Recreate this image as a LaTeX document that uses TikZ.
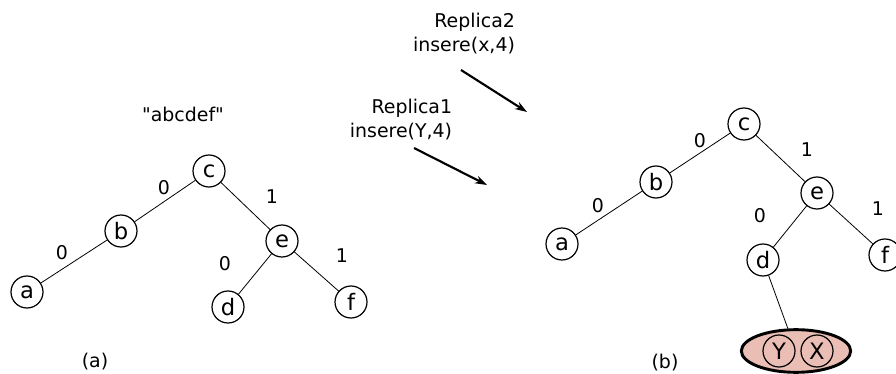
\documentclass[tikz,border=0pt]{standalone}
\usepackage{fontspec}
\setmainfont{DejaVu Sans}[Ligatures=TeXOff]
\usetikzlibrary{arrows.meta, positioning, shapes.geometric}
\definecolor{blocpink}{RGB}{234,190,180}
\tikzset{
  vertex/.style={circle, draw, line width=0.9pt, minimum size=24pt, inner sep=0pt, font=\fontsize{17}{18}\selectfont},
  lbl/.style={font=\fontsize{14.2}{15}\selectfont},
  edge/.style={line width=0.6pt},
  opline/.style={line width=1.6pt, -{Stealth[length=9pt, width=6pt]}}
}
\begin{document}
\begin{tikzpicture}[x=0.75pt, y=-0.75pt]
\useasboundingbox (0,0) rectangle (896,374);
%left tree
\node[lbl] (str) at (183,114) {"abcdef"};
\node[vertex] (lc) at (209,171) {c};
\node[vertex] (lb) at (121,231) {b};
\node[vertex] (la) at (27,292) {a};
\node[vertex] (le) at (282,241) {e};
\node[vertex] (ld) at (228,307) {d};
\node[vertex] (lf) at (351,302) {f};
\draw[edge] (lc) -- (lb);
\draw[edge] (lb) -- (la);
\draw[edge] (lc) -- (le);
\draw[edge] (le) -- (ld);
\draw[edge] (le) -- (lf);
\node[lbl] at (164,188) {0};
\node[lbl] at (62,253) {0};
\node[lbl] at (272,197) {1};
\node[lbl] at (225,264) {0};
\node[lbl] at (342,256) {1};
\node[lbl] (capa) at (95,362) {(a)};
%operations
\node[lbl, align=right] (rep2) at (464,34) {Replica2\\[3pt]insere(x,4)};
\node[lbl, align=right] (rep1) at (401,120) {Replica1\\[3pt]insere(Y,4)};
\coordinate (s2) at (461,70);
\coordinate (t2) at (527,112);
\coordinate (s1) at (414,148);
\coordinate (t1) at (487,185);
\draw[opline] (s2) -- (t2);
\draw[opline] (s1) -- (t1);
%right tree
\node[vertex] (rc) at (744,124) {c};
\node[vertex] (rb) at (656,182) {b};
\node[vertex] (ra) at (562,244) {a};
\node[vertex] (re) at (817,193) {e};
\node[vertex] (rd) at (763,260) {d};
\node[vertex] (rf) at (885,255) {f};
\node[ellipse, draw, line width=2.2pt, fill=blocpink, minimum width=82pt, minimum height=32pt] (bloc) at (796,351) {};
\node[vertex] (ry) at (779,351) {Y};
\node[vertex] (rx) at (817,351) {X};
\draw[edge] (rc) -- (rb);
\draw[edge] (rb) -- (ra);
\draw[edge] (rc) -- (re);
\draw[edge] (re) -- (rd);
\draw[edge] (re) -- (rf);
\draw[edge] (rd) -- (bloc);
\node[lbl] at (700,141) {0};
\node[lbl] at (598,206) {0};
\node[lbl] at (807,150) {1};
\node[lbl] at (760,216) {0};
\node[lbl] at (878,209) {1};
\node[lbl] (capb) at (665,363) {(b)};
\end{tikzpicture}
\end{document}
